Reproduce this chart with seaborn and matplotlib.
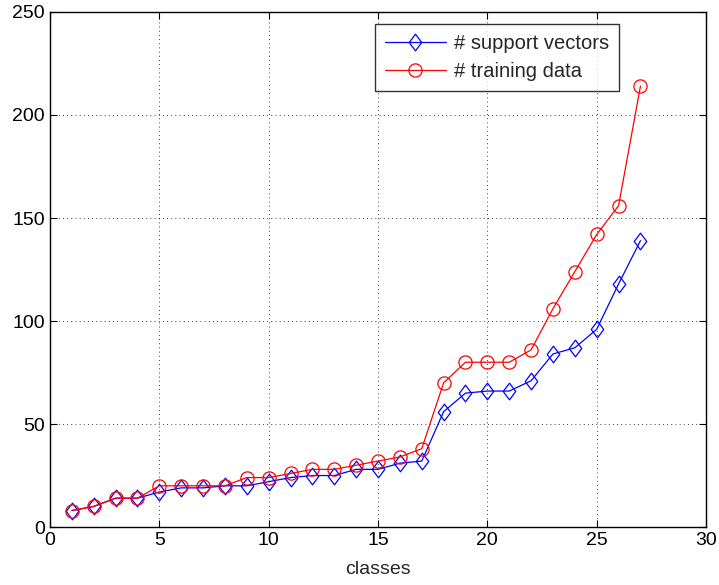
import numpy as np
import pandas as pd
import matplotlib
matplotlib.use("Agg")
import matplotlib.pyplot as plt
from matplotlib.path import Path
import seaborn as sns

# values
classes = list(range(1, 28))
support_vectors = [8, 10, 14, 14, 17, 19, 19, 20, 20, 22, 24, 25, 25, 28, 28, 31, 32,
                   56, 65, 66, 66, 71, 84, 87, 96, 118, 139]
training_data = [8, 10, 14, 14, 20, 20, 20, 20, 24, 24, 26, 28, 28, 30, 32, 34, 38,
                 70, 80, 80, 80, 86, 106, 124, 142, 156, 214]

sns.set_style("ticks")
plt.rcParams["font.family"] = ["Liberation Sans", "DejaVu Sans"]
plt.rcParams["xtick.direction"] = "in"
plt.rcParams["ytick.direction"] = "in"

df = pd.DataFrame({"classes": classes,
                   "sv": support_vectors,
                   "train": training_data})

# matlab-like diamond (a bit taller than wide)
diamond = Path([(0, 1), (0.75, 0), (0, -1), (-0.75, 0), (0, 1)],
               [Path.MOVETO, Path.LINETO, Path.LINETO, Path.LINETO, Path.CLOSEPOLY])

fig = plt.figure(figsize=(7.19, 5.85), dpi=100)
ax = fig.add_axes([0.0695, 0.0991, 0.9125, 0.8804])

sns.lineplot(data=df, x="classes", y="sv", ax=ax, color="blue", linewidth=0.9,
             marker=diamond, markersize=12, markerfacecolor="none",
             markeredgecolor="blue", markeredgewidth=0.9, label="# support vectors")
sns.lineplot(data=df, x="classes", y="train", ax=ax, color="red", linewidth=0.9,
             marker="o", markersize=9.5, markerfacecolor="none",
             markeredgecolor="red", markeredgewidth=0.9, label="# training data")

ax.set_xlim(0, 30)
ax.set_ylim(0, 250)
ax.set_xticks(range(0, 31, 5))
ax.set_yticks(range(0, 251, 50))
ax.tick_params(labelsize=14, top=True, right=True, length=5, width=0.8, colors="black")
ax.grid(True, linestyle=(0, (1, 4)), color="black", linewidth=0.6)
for s in ax.spines.values():
    s.set_visible(True)
    s.set_linewidth(1.0)
    s.set_color("black")

ax.set_xlabel("classes", fontsize=14, labelpad=9)
ax.set_ylabel("")

leg = ax.legend(loc="upper right", bbox_to_anchor=(0.867, 0.977), borderaxespad=0,
                fontsize=14.5, frameon=True, fancybox=False, edgecolor="black",
                handlelength=3.0, handletextpad=0.4, borderpad=0.5, labelspacing=0.45)
leg.get_frame().set_linewidth(1.0)

plt.savefig("out.png", dpi=100)
